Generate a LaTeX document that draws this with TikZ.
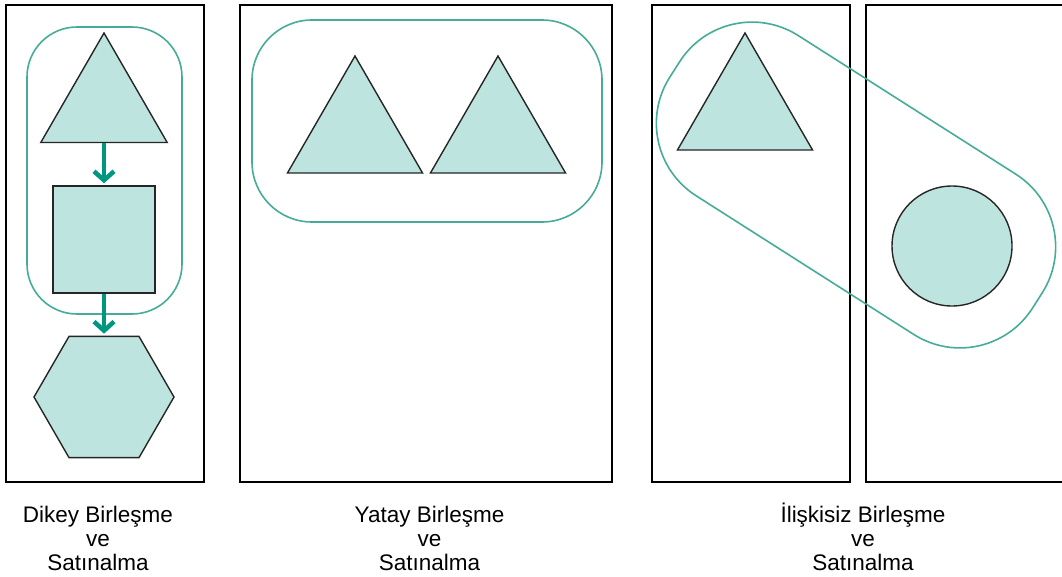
\documentclass[tikz,border=0pt]{standalone}
\usepackage{fontspec}
\setmainfont{Liberation Sans}
\usetikzlibrary{shapes.geometric, arrows.meta, positioning}
\definecolor{shapefill}{RGB}{189,228,222}
\definecolor{groupgreen}{RGB}{70,172,152}
\definecolor{flowteal}{RGB}{0,150,128}

\begin{document}
\begin{tikzpicture}[x=1pt, y=-1pt,
    panel/.style={draw=black, line width=2.5pt, minimum width=#1, minimum height=477pt, inner sep=0pt},
    group/.style={draw=groupgreen, line width=1.6pt, inner sep=0pt},
    item/.style={draw=black!85, line width=1.4pt, fill=shapefill, inner sep=0pt},
    tri/.style={item, regular polygon, regular polygon sides=3, minimum size=#1},
    flow/.style={-{Straight Barb[length=9pt, width=20pt]}, line width=4.5pt, flowteal, shorten >=2pt},
    caption/.style={font=\fontsize{22.5}{24}\selectfont, align=center, anchor=base, inner sep=0pt}
]
\useasboundingbox (0,0) rectangle (1062,576);

% Panels
\node[panel=198pt] (panelA) at (105,243.5) {};
\node[panel=372pt] (panelB) at (426,243.5) {};
\node[panel=198pt] (panelC) at (751,243.5) {};
\node[panel=200pt] (panelD) at (966,243.5) {};

% Groups
\node[group, rounded corners=50pt, minimum width=155pt, minimum height=287pt] (groupA) at (104.5,170.5) {};
\node[group, rounded corners=60pt, minimum width=350pt, minimum height=202pt] (groupB) at (427,121) {};
\node[group, rounded corners=86pt, minimum width=430pt, minimum height=190pt, rotate=-32.5] (groupC) at (856,185) {};

% Vertical
\node[tri=146pt] (triA) at (104,106) {};
\node[item, minimum width=102pt, minimum height=107pt] (sqA) at (104,239.5) {};
\node[item, regular polygon, regular polygon sides=6, minimum size=140pt] (hexA) at (104,397) {};
\draw[flow] (triA.south) -- (sqA.north);
\draw[flow] (sqA.south) -- (hexA.north);

% Horizontal
\node[tri=156pt] (triB1) at (355,134) {};
\node[tri=156pt] (triB2) at (498,134) {};

% Unrelated
\node[tri=156pt] (triC) at (745,111) {};
\node[item, circle, minimum size=120pt] (circC) at (952,246) {};

% Captions
\node[caption] (capA) at (98,570) {Dikey Birleşme\\ve\\Satınalma};
\node[caption] (capB) at (429.5,570) {Yatay Birleşme\\ve\\Satınalma};
\node[caption] (capC) at (863,570) {İlişkisiz Birleşme\\ve\\Satınalma};

\end{tikzpicture}
\end{document}
